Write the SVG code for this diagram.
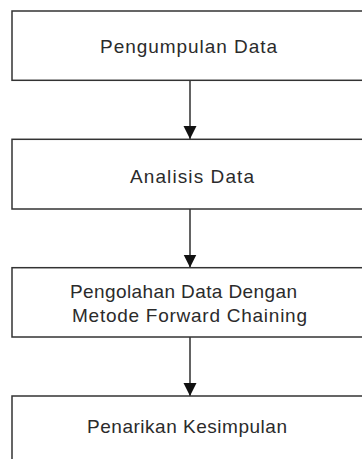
<svg xmlns="http://www.w3.org/2000/svg" width="362" height="459" viewBox="0 0 362 459">
  <defs>
    <style>
      .box { fill: #ffffff; stroke: #333333; stroke-width: 1.5; }
      .label { font-family: "Liberation Sans", Arial, sans-serif; font-size: 19px; fill: #2b2b2b; }
      .link { stroke: #222222; stroke-width: 1.4; fill: none; }
    </style>
    <marker id="head" markerUnits="userSpaceOnUse" markerWidth="14" markerHeight="14" viewBox="0 0 14 14" refX="13" refY="7" orient="auto">
      <path d="M0,0.5 L13,7 L0,13.5 Z" fill="#111111"/>
    </marker>
  </defs>
  <rect width="362" height="459" fill="#ffffff"/>

  <g id="connectors">
    <line class="link" x1="190" y1="80.5" x2="190" y2="139" marker-end="url(#head)"/>
    <line class="link" x1="190" y1="209" x2="190" y2="267.5" marker-end="url(#head)"/>
    <line class="link" x1="190" y1="337" x2="190" y2="396" marker-end="url(#head)"/>
  </g>

  <g id="pengumpulan-data">
    <rect class="box" x="12" y="11" width="380" height="69.3"/>
    <text class="label" x="100" y="52.7" textLength="177" lengthAdjust="spacing">Pengumpulan Data</text>
  </g>

  <g id="analisis-data">
    <rect class="box" x="12" y="139.3" width="380" height="69.7"/>
    <text class="label" x="130" y="182.7" textLength="124" lengthAdjust="spacing">Analisis Data</text>
  </g>

  <g id="pengolahan-data">
    <rect class="box" x="12" y="267.7" width="380" height="69.3"/>
    <text class="label" x="70" y="297.7" textLength="227" lengthAdjust="spacing">Pengolahan Data Dengan</text>
    <text class="label" x="72" y="321.7" textLength="235" lengthAdjust="spacing">Metode Forward Chaining</text>
  </g>

  <g id="penarikan-kesimpulan">
    <rect class="box" x="12" y="396" width="380" height="80"/>
    <text class="label" x="87" y="432.7" textLength="200" lengthAdjust="spacing">Penarikan Kesimpulan</text>
  </g>
</svg>
